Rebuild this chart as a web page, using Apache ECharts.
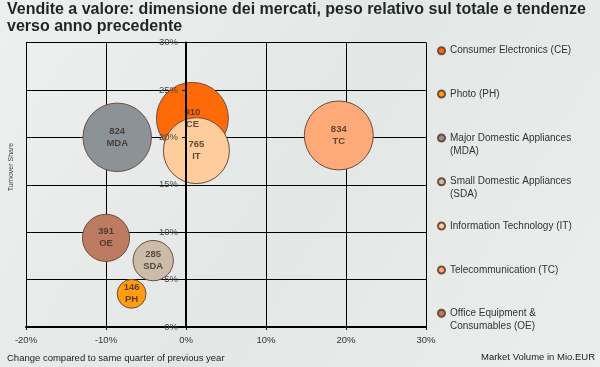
<!DOCTYPE html>
<html>
<head>
<meta charset="utf-8">
<script src="https://cdn.jsdelivr.net/npm/echarts@6/dist/echarts.min.js"></script>
<style>html,body{margin:0;padding:0;}#c{width:600px;height:367px;}</style>
</head>
<body>
<div id="c"></div>
<script>
var categories = ['Consumer Electronics (CE)', 'Photo (PH)', 'Major Domestic Appliances\n(MDA)', 'Small Domestic Appliances\n(SDA)', 'Information Technology (IT)', 'Telecommunication (TC)', 'Office Equipment &\nConsumables (OE)'];
var abbr = ['CE', 'PH', 'MDA', 'SDA', 'IT', 'TC', 'OE'];
var change = [0.8, -6.8, -8.6, -4.1, 1.3, 19.1, -10.0];
var share = [22.0, 3.5, 20.0, 7.0, 18.6, 20.2, 9.4];
var volume = [910, 146, 824, 285, 765, 834, 391];
var colors = ['#ff6a08', '#ff9c12', '#8b9298', '#cbbca9', '#ffcc9c', '#fdaa78', '#bd7b62'];
var xTicks = [-20, 30, 10];
var yTicks = [0, 30, 5];

var chart = echarts.init(document.getElementById('c'));
var FONT = 'Liberation Sans';
var legendCenters = [50.7, 94, 138, 181.7, 226, 270, 313.3];
var LH = 13;
var GRID = { left: 26, right: 174, top: 42.5, bottom: 40 };
var plotW = 600 - GRID.left - GRID.right;
// y axis placed at x = 0 of the x scale
var yAxisOffset = -plotW * (0 - xTicks[0]) / (xTicks[1] - xTicks[0]);

function sizeOf(d) { return 2.386 * Math.sqrt(d[2]); }

var series = categories.map(function (name, i) {
  return {
    type: 'scatter',
    name: name,
    z: 2,
    data: [[change[i], share[i], volume[i]]],
    symbolSize: sizeOf,
    itemStyle: { color: colors[i], borderColor: '#6e4c3c', borderWidth: 1, opacity: 1 },
    label: { show: false },
    emphasis: { disabled: true }
  };
});
// label layer drawn above all bubbles
series.push({
  type: 'scatter',
  name: '__labels',
  z: 5,
  silent: true,
  data: categories.map(function (n, i) { return [change[i], share[i], volume[i]]; }),
  symbolSize: sizeOf,
  itemStyle: { color: 'rgba(0,0,0,0)', borderWidth: 0 },
  label: {
    show: true, position: 'inside',
    formatter: function (p) { return p.value[2] + '\n' + abbr[p.dataIndex]; },
    fontFamily: FONT, fontWeight: 'bold', fontSize: 9.5, lineHeight: 12, color: '#3a2c24'
  },
  emphasis: { disabled: true }
});

var legends = categories.map(function (name, i) {
  var two = name.indexOf('\n') >= 0;
  return {
    data: [name], orient: 'vertical', left: 437,
    top: two ? legendCenters[i] - LH * 1.5 : legendCenters[i] - LH / 2,
    padding: 0, itemWidth: 7, itemHeight: 7, icon: 'circle',
    selectedMode: false,
    formatter: function (n) { return two ? ' \n' + n : n; },
    textStyle: { fontFamily: FONT, fontSize: 10, color: '#333', lineHeight: LH }
  };
});

chart.setOption({
  backgroundColor: { type: 'linear', x: 0, y: 0, x2: 1, y2: 1, colorStops: [
    { offset: 0, color: '#eef0ef' }, { offset: 0.5, color: '#e3e7e5' }, { offset: 1, color: '#eceeed' }] },
  animation: false,
  title: [
    { text: 'Vendite a valore: dimensione dei mercati, peso relativo sul totale e tendenze\nverso anno precedente',
      left: 7, top: 1, padding: 0, textStyle: { fontFamily: FONT, fontWeight: 'bold', fontSize: 16, lineHeight: 17, color: '#1e2626' } },
    { text: 'Change compared to same quarter of previous year', left: 7, top: 353, padding: 0,
      textStyle: { fontFamily: FONT, fontWeight: 'normal', fontSize: 9.5, color: '#222' } },
    { text: 'Market Volume in Mio.EUR', right: 5, top: 352, padding: 0,
      textStyle: { fontFamily: FONT, fontWeight: 'normal', fontSize: 9.5, color: '#222' } }
  ],
  graphic: [{ type: 'text', x: 11, y: 167, rotation: Math.PI / 2, style: { text: 'Turnover Share', font: '7px ' + FONT, fill: '#444', align: 'center', verticalAlign: 'middle' } }],
  legend: legends,
  grid: GRID,
  xAxis: {
    type: 'value', min: xTicks[0], max: xTicks[1], interval: xTicks[2],
    axisLine: { onZero: false, lineStyle: { color: '#000', width: 2 } },
    axisTick: { show: true, length: 3, lineStyle: { color: '#000' } },
    axisLabel: { formatter: '{value}%', fontFamily: FONT, fontSize: 9.5, color: '#333', margin: 8 },
    splitLine: { show: true, lineStyle: { color: '#000', width: 1 } }
  },
  yAxis: [
    { type: 'value', min: yTicks[0], max: yTicks[1], interval: yTicks[2], z: 0,
      axisLine: { show: false }, axisTick: { show: false }, axisLabel: { show: false },
      splitLine: { show: true, lineStyle: { color: '#000', width: 1 } } },
    { type: 'value', min: yTicks[0], max: yTicks[1], interval: yTicks[2], position: 'left', offset: yAxisOffset, z: 10,
      axisLine: { show: true, onZero: false, lineStyle: { color: '#000', width: 2 } },
      axisTick: { show: true, length: 4, lineStyle: { color: '#000' } },
      axisLabel: { formatter: '{value}%', fontFamily: FONT, fontSize: 9.5, color: '#4a4a4a', margin: 8 },
      splitLine: { show: false } }
  ],
  series: series
});
</script>
</body>
</html>
